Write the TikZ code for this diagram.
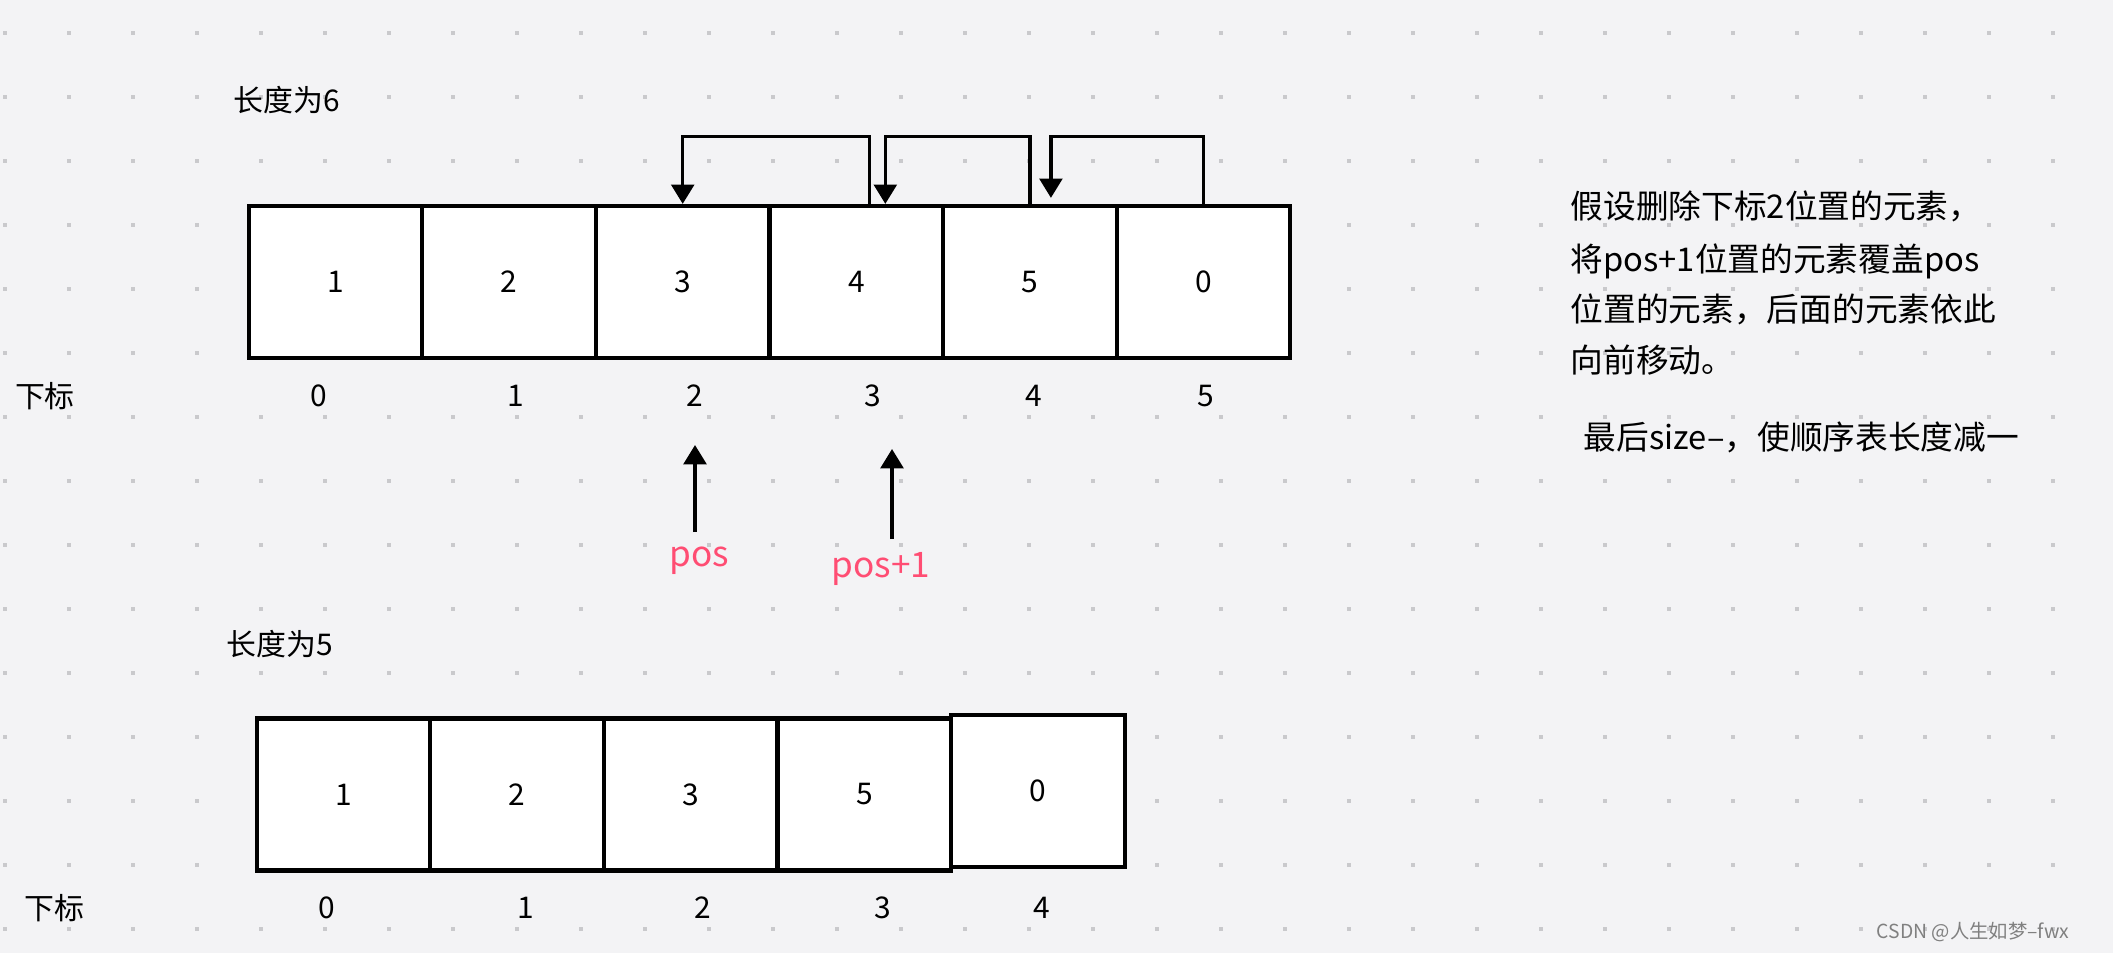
\documentclass[tikz,border=0pt]{standalone}
\usepackage{fontspec}
\setmainfont{Noto Sans CJK SC}
\usetikzlibrary{arrows.meta}
\definecolor{bg}{HTML}{F3F3F5}
\definecolor{dotc}{HTML}{C9C9CC}
\definecolor{pink}{HTML}{FF4D73}
\begin{document}
\begin{tikzpicture}[x=0.01cm,y=-0.01cm,
  cell/.style={draw=black,line width=1.2pt,fill=white,minimum width=1.735cm,minimum height=1.52cm,inner sep=0pt,font=\fontsize{8.5pt}{10pt}\selectfont},
  lbl/.style={inner sep=0pt,font=\fontsize{8.5pt}{10pt}\selectfont},
  arr/.style={line width=0.9pt,-{Triangle[width=6.5pt,length=5.5pt]}},
  note/.style={inner sep=0pt,anchor=west,font=\fontsize{9.3pt}{11pt}\selectfont},
  ptr/.style={inner sep=0pt,text=pink,font=\fontsize{10pt}{12pt}\selectfont}]
\fill[bg] (0,0) rectangle (2113,953);
\useasboundingbox (0,0) rectangle (2113,953);
\foreach \i in {0,...,32}{\foreach \j in {0,...,14}{
  \fill[dotc] (4.5+64*\i-2,33+64*\j-2) rectangle ++(4,4);}}
% top array
\node[lbl,anchor=west] (len6) at (233,100) {长度为6};
\foreach \v/\n [count=\k from 0] in {1/a1,2/a2,3/a3,4/a4,5/a5,0/a6}{
  \node[cell] (\n) at (335.5+173.6*\k,282) {\v};}
\node[lbl] (xb1) at (45,396) {下标};
\foreach \v/\x in {0/319,1/516,2/695,3/873,4/1034,5/1206}{
  \node[lbl] (ia\v) at (\x,396) {\v};}
\draw[arr] ([xshift=0.13cm]a4.north) -- ++(0,-67) -| (a3.north);
\draw[arr] (a5.north) -- ++(0,-67) -| ([xshift=0.29cm]a4.north);
\draw[arr] (a6.north) -- ++(0,-67) -| ([xshift=0.21cm,yshift=0.06cm]a5.north);
% pointers
\coordinate (p1s) at (695,532); \coordinate (p1e) at (695,445);
\coordinate (p2s) at (892,539); \coordinate (p2e) at (892,449);
\draw[arr] (p1s) -- (p1e);
\draw[arr] (p2s) -- (p2e);
\node[ptr] (pos) at (699,561) {pos};
\node[ptr] (pos1) at (881,569) {pos+1};
% bottom array
\node[lbl,anchor=west] (len5) at (226,644) {长度为5};
\foreach \v/\n [count=\k from 0] in {1/b1,2/b2,3/b3,5/b4}{
  \node[cell] (\n) at (343.5+173.6*\k,794.5) {\v};}
\node[cell] (b5) at (1038,791) {0};
\node[lbl] (xb2) at (54,908) {下标};
\foreach \v/\x in {0/327,1/526,2/703,3/883,4/1042}{
  \node[lbl] (ib\v) at (\x,908) {\v};}
% notes
\node[note] (t1) at (1570,206) {假设删除下标2位置的元素，};
\node[note] (t2) at (1570,261) {将pos+1位置的元素覆盖pos};
\node[note] (t3) at (1570,309) {位置的元素，后面的元素依此};
\node[note] (t4) at (1570,360) {向前移动。};
\node[note] (t5) at (1583,437) {最后size--，使顺序表长度减一};
\node[inner sep=0pt,text=gray,font=\fontsize{5.5pt}{7pt}\selectfont] (wm) at (1973,932) {CSDN @人生如梦--fwx};
\end{tikzpicture}
\end{document}
